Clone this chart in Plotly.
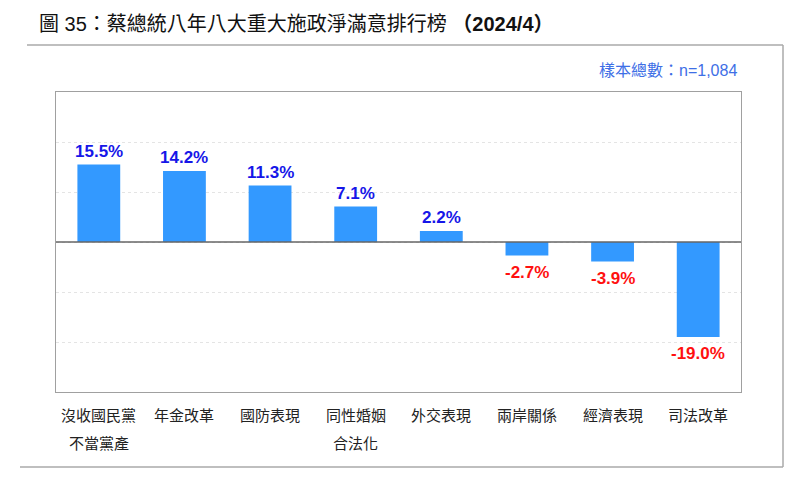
import plotly.graph_objects as go

categories = ["沒收國民黨<br>不當黨產", "年金改革", "國防表現", "同性婚姻<br>合法化",
              "外交表現", "兩岸關係", "經濟表現", "司法改革"]
values = [15.5, 14.2, 11.3, 7.1, 2.2, -2.7, -3.9, -19.0]
title_text = "圖 35：蔡總統八年八大重大施政淨滿意排行榜 <b>（2024/4）</b>"
sample_text = "樣本總數：n=1,084"
y_ticks = [-30, -20, -10, 0, 10, 20, 30]

FONT = "Liberation Sans, Arial, Noto Sans CJK TC, sans-serif"
BLUE_LABEL = "#1616e8"
RED_LABEL = "#ff1010"
BAR = "#3399ff"

# page has an 8px body margin; compensate
OFF = 8
PL, PR, PT, PB = 56, 741, 92, 392   # plot area in page pixels
FW, FH = 800 - OFF, 483 - OFF
L, T = PL - OFF, PT - OFF
R, B = FW - (PR - OFF), FH - (PB - OFF)
W, H = PR - PL, PB - PT

def px(x):
    return (x - PL) / W
def py(y):
    return (PB - y) / H

fig = go.Figure()
fig.add_trace(go.Bar(x=list(range(len(categories))), y=values, marker=dict(color=BAR, line=dict(width=0)),
                     width=0.5, hoverinfo="skip"))

annotations = []
for i, v in enumerate(values):
    pos = v >= 0
    annotations.append(dict(
        x=i, y=v, xref="x", yref="y", text=f"<b>{v:.1f}%</b>", showarrow=False,
        yanchor="bottom" if pos else "top", yshift=2 if pos else -5,
        font=dict(family=FONT, size=17, color=BLUE_LABEL if pos else RED_LABEL)))

line_y = [py(414), py(442)]
for i, c in enumerate(categories):
    for j, part in enumerate(c.split("<br>")):
        annotations.append(dict(
            x=i, y=line_y[j], xref="x", yref="paper", text=part, showarrow=False,
            yanchor="middle", font=dict(family="Noto Sans CJK TC, sans-serif", size=15, color="#222")))

annotations.append(dict(x=px(37), y=py(24), xref="paper", yref="paper",
                        text=title_text, showarrow=False, xanchor="left", yanchor="middle",
                        font=dict(family=FONT, size=20, color="#111")))
annotations.append(dict(x=px(739), y=py(71), xref="paper", yref="paper",
                        text=sample_text, showarrow=False, xanchor="right", yanchor="middle",
                        font=dict(family=FONT, size=16, color="#3e6fe6")))

shapes = [
    dict(type="line", xref="paper", yref="paper", x0=px(27), x1=px(783), y0=py(45), y1=py(45),
         line=dict(color="#aaaaaa", width=1.5)),
    dict(type="line", xref="paper", yref="paper", x0=px(783), x1=px(783), y0=py(45), y1=py(467),
         line=dict(color="#aaaaaa", width=1.5)),
    dict(type="line", xref="paper", yref="paper", x0=px(20), x1=px(783), y0=py(467), y1=py(467),
         line=dict(color="#aaaaaa", width=1.5)),
    dict(type="line", xref="paper", yref="y", x0=0, x1=1, y0=0, y1=0,
         line=dict(color="#666666", width=1.6), layer="above"),
]

fig.update_layout(
    width=FW, height=FH, margin=dict(l=L, r=R, t=T, b=B),
    paper_bgcolor="white", plot_bgcolor="white", showlegend=False,
    xaxis=dict(range=[-0.5, len(categories) - 0.5], showticklabels=False, showgrid=False,
               zeroline=False, showline=True, mirror=True, linecolor="#a0a0a0", linewidth=1, ticks=""),
    yaxis=dict(range=[-30, 30], tickvals=y_ticks, showticklabels=False, showgrid=True,
               gridcolor="#e4e4e4", griddash="dot", gridwidth=1, zeroline=False,
               showline=True, mirror=True, linecolor="#a0a0a0", linewidth=1, ticks=""),
    annotations=annotations, shapes=shapes,
)

fig.write_html("out.html")
